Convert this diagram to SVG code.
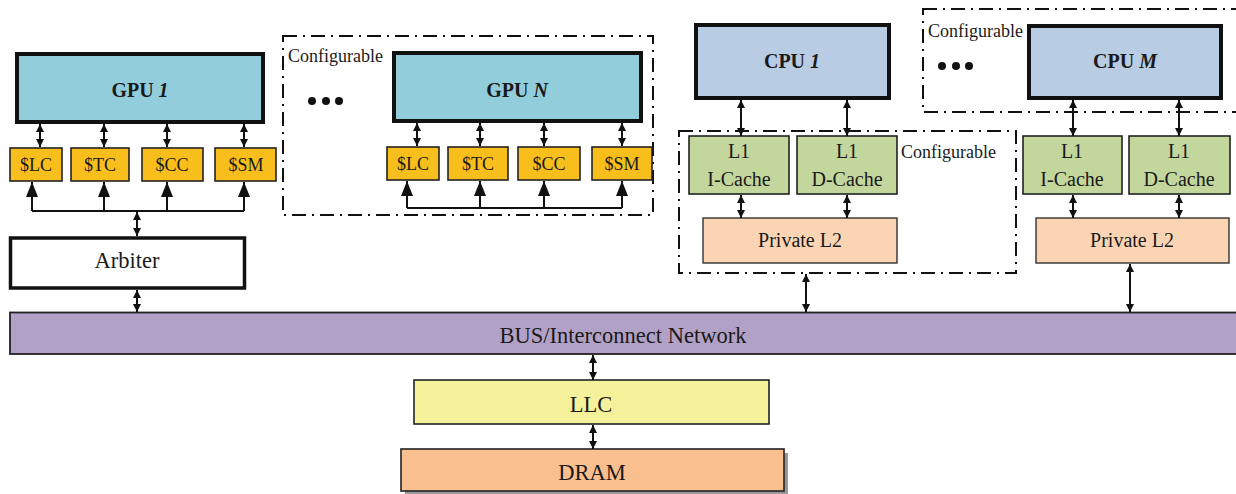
<svg xmlns="http://www.w3.org/2000/svg" width="1236" height="494" viewBox="0 0 1236 494">
  <style>
    text { font-family: "Liberation Serif", "Times New Roman", serif; fill: #1a1a1a; }
    .core { font-size: 20px; font-weight: bold; text-anchor: middle; }
    .lbl { font-size: 18px; text-anchor: middle; }
    .mid { font-size: 20px; text-anchor: middle; }
    .big { font-size: 22.5px; text-anchor: middle; }
    .cfg { font-size: 18px; }
    .gpu { fill: #92CDDC; stroke: #111; stroke-width: 4; }
    .cpu { fill: #B8CCE4; stroke: #111; stroke-width: 4; }
    .sc { fill: #F8BE1C; stroke: #222; stroke-width: 1.6; }
    .l1 { fill: #C3D69B; stroke: #222; stroke-width: 1.6; }
    .l2 { fill: #FBD4B4; stroke: #333; stroke-width: 1.4; }
    .dash { fill: none; stroke: #111; stroke-width: 2; stroke-dasharray: 14 6 2 6; }
    .dbl { stroke: #111; stroke-width: 2; fill: none; marker-start: url(#ah); marker-end: url(#ah); }
    .up { stroke: #111; stroke-width: 2; fill: none; marker-end: url(#bigah); }
    .wire { stroke: #111; stroke-width: 2; fill: none; }
  </style>
  <defs>
    <marker id="ah" viewBox="0 0 8 8" refX="8" refY="4" markerWidth="8" markerHeight="8" markerUnits="userSpaceOnUse" orient="auto-start-reverse">
      <path d="M0,0 L8,4 L0,8 z" fill="#111"/>
    </marker>
    <marker id="bigah" viewBox="0 0 15 12" refX="15" refY="6" markerWidth="15" markerHeight="12" markerUnits="userSpaceOnUse" orient="auto">
      <path d="M0,0 L15,6 L0,12 z" fill="#111"/>
    </marker>
  </defs>

  <!-- configurable regions -->
  <g id="cfg-gpu">
    <rect class="dash" x="283" y="36" width="370" height="179"/>
    <text class="cfg" x="288" y="62">Configurable</text>
    <circle cx="312" cy="101" r="4" fill="#111"/>
    <circle cx="326" cy="101" r="4" fill="#111"/>
    <circle cx="339" cy="101" r="4" fill="#111"/>
  </g>
  <g id="cfg-cpu-cache">
    <rect class="dash" x="679" y="131" width="337" height="142"/>
    <text class="cfg" x="901" y="158">Configurable</text>
  </g>
  <g id="cfg-cpu">
    <rect class="dash" x="923" y="9" width="320" height="103"/>
    <text class="cfg" x="928" y="37">Configurable</text>
    <circle cx="942" cy="66" r="4" fill="#111"/>
    <circle cx="956" cy="66" r="4" fill="#111"/>
    <circle cx="969" cy="66" r="4" fill="#111"/>
  </g>

  <!-- GPU 1 -->
  <g id="gpu1">
    <rect class="gpu" x="17" y="54" width="246" height="68"/>
    <text class="core" x="140" y="97">GPU <tspan font-style="italic">1</tspan></text>
  </g>
  <g id="gpu1-lc"><rect class="sc" x="10" y="148" width="52" height="33"/><text class="lbl" x="36" y="171">$LC</text></g>
  <g id="gpu1-tc"><rect class="sc" x="71" y="148" width="58" height="33"/><text class="lbl" x="100" y="171">$TC</text></g>
  <g id="gpu1-cc"><rect class="sc" x="142" y="148" width="61" height="33"/><text class="lbl" x="172" y="171">$CC</text></g>
  <g id="gpu1-sm"><rect class="sc" x="215" y="148" width="61" height="33"/><text class="lbl" x="246" y="171">$SM</text></g>

  <!-- Arbiter -->
  <g id="arbiter">
    <rect x="10.5" y="238" width="234" height="50" fill="#fff" stroke="#111" stroke-width="3.5"/>
    <text class="big" x="127" y="268">Arbiter</text>
  </g>

  <!-- GPU N -->
  <g id="gpuN">
    <rect class="gpu" x="394" y="53" width="247" height="68"/>
    <text class="core" x="517" y="97">GPU <tspan font-style="italic">N</tspan></text>
  </g>
  <g id="gpuN-lc"><rect class="sc" x="387" y="147" width="52" height="33"/><text class="lbl" x="413" y="170">$LC</text></g>
  <g id="gpuN-tc"><rect class="sc" x="448" y="147" width="60" height="33"/><text class="lbl" x="478" y="170">$TC</text></g>
  <g id="gpuN-cc"><rect class="sc" x="518" y="147" width="62" height="33"/><text class="lbl" x="549" y="170">$CC</text></g>
  <g id="gpuN-sm"><rect class="sc" x="592" y="147" width="60" height="33"/><text class="lbl" x="622" y="170">$SM</text></g>

  <!-- CPU 1 -->
  <g id="cpu1">
    <rect class="cpu" x="696" y="25" width="193" height="73"/>
    <text class="core" x="792" y="68">CPU <tspan font-style="italic">1</tspan></text>
  </g>
  <g id="cpu1-l1i"><rect class="l1" x="689" y="136" width="100" height="58"/><text class="mid" x="739" y="158">L1</text><text class="mid" x="739" y="186">I-Cache</text></g>
  <g id="cpu1-l1d"><rect class="l1" x="797" y="136" width="100" height="58"/><text class="mid" x="847" y="158">L1</text><text class="mid" x="847" y="186">D-Cache</text></g>
  <g id="cpu1-l2"><rect class="l2" x="703" y="218" width="194" height="45"/><text class="mid" x="800" y="247">Private L2</text></g>

  <!-- CPU M -->
  <g id="cpuM">
    <rect class="cpu" x="1029" y="26" width="192" height="72"/>
    <text class="core" x="1125" y="68">CPU <tspan font-style="italic">M</tspan></text>
  </g>
  <g id="cpuM-l1i"><rect class="l1" x="1023" y="136" width="99" height="58"/><text class="mid" x="1072" y="158">L1</text><text class="mid" x="1072" y="186">I-Cache</text></g>
  <g id="cpuM-l1d"><rect class="l1" x="1129" y="136" width="101" height="58"/><text class="mid" x="1179" y="158">L1</text><text class="mid" x="1179" y="186">D-Cache</text></g>
  <g id="cpuM-l2"><rect class="l2" x="1036" y="218" width="193" height="45"/><text class="mid" x="1132" y="247">Private L2</text></g>

  <!-- shared interconnect and memory -->
  <g id="bus">
    <rect x="10" y="312.5" width="1232" height="41.5" fill="#B2A1C7" stroke="#222" stroke-width="1.8"/>
    <text class="big" x="623" y="343">BUS/Interconnect Network</text>
  </g>
  <g id="llc">
    <rect x="414" y="380" width="355" height="44" fill="#F6F29B" stroke="#222" stroke-width="1.6"/>
    <text class="big" x="591" y="412">LLC</text>
  </g>
  <g id="dram">
    <rect x="405" y="453" width="383" height="42" fill="#999"/>
    <rect x="401" y="449" width="383" height="42" fill="#F9BF8F" stroke="#222" stroke-width="1.6"/>
    <text class="big" x="592" y="480">DRAM</text>
  </g>

  <g id="connectors">
    <!-- GPU 1 to its caches -->
    <line class="dbl" x1="40" y1="124" x2="40" y2="147"/>
    <line class="dbl" x1="104" y1="124" x2="104" y2="147"/>
    <line class="dbl" x1="167" y1="124" x2="167" y2="147"/>
    <line class="dbl" x1="244" y1="124" x2="244" y2="147"/>
    <!-- GPU 1 cache fan-in -->
    <line class="wire" x1="32" y1="211" x2="244" y2="211"/>
    <line class="up" x1="32" y1="211" x2="32" y2="182"/>
    <line class="up" x1="104" y1="211" x2="104" y2="182"/>
    <line class="up" x1="167" y1="211" x2="167" y2="182"/>
    <line class="up" x1="244" y1="211" x2="244" y2="182"/>
    <line class="dbl" x1="137" y1="212" x2="137" y2="236"/>
    <line class="dbl" x1="137" y1="290" x2="137" y2="312"/>

    <!-- GPU N to its caches -->
    <line class="dbl" x1="417" y1="123" x2="417" y2="146"/>
    <line class="dbl" x1="480" y1="123" x2="480" y2="146"/>
    <line class="dbl" x1="544" y1="123" x2="544" y2="146"/>
    <line class="dbl" x1="622" y1="123" x2="622" y2="146"/>
    <line class="wire" x1="407" y1="208" x2="622" y2="208"/>
    <line class="up" x1="407" y1="208" x2="407" y2="181"/>
    <line class="up" x1="480" y1="208" x2="480" y2="181"/>
    <line class="up" x1="544" y1="208" x2="544" y2="181"/>
    <line class="up" x1="622" y1="208" x2="622" y2="181"/>

    <!-- CPU 1 -->
    <line class="dbl" x1="741" y1="100" x2="741" y2="136"/>
    <line class="dbl" x1="847" y1="100" x2="847" y2="136"/>
    <line class="dbl" x1="741" y1="195" x2="741" y2="218"/>
    <line class="dbl" x1="847" y1="195" x2="847" y2="218"/>
    <line class="dbl" x1="806" y1="274" x2="806" y2="312"/>

    <!-- CPU M -->
    <line class="dbl" x1="1073" y1="100" x2="1073" y2="136"/>
    <line class="dbl" x1="1179" y1="100" x2="1179" y2="136"/>
    <line class="dbl" x1="1073" y1="195" x2="1073" y2="218"/>
    <line class="dbl" x1="1179" y1="195" x2="1179" y2="218"/>
    <line class="dbl" x1="1130" y1="264" x2="1130" y2="312"/>

    <!-- memory hierarchy -->
    <line class="dbl" x1="593" y1="355" x2="593" y2="380"/>
    <line class="dbl" x1="593" y1="425" x2="593" y2="449"/>
  </g>
</svg>
